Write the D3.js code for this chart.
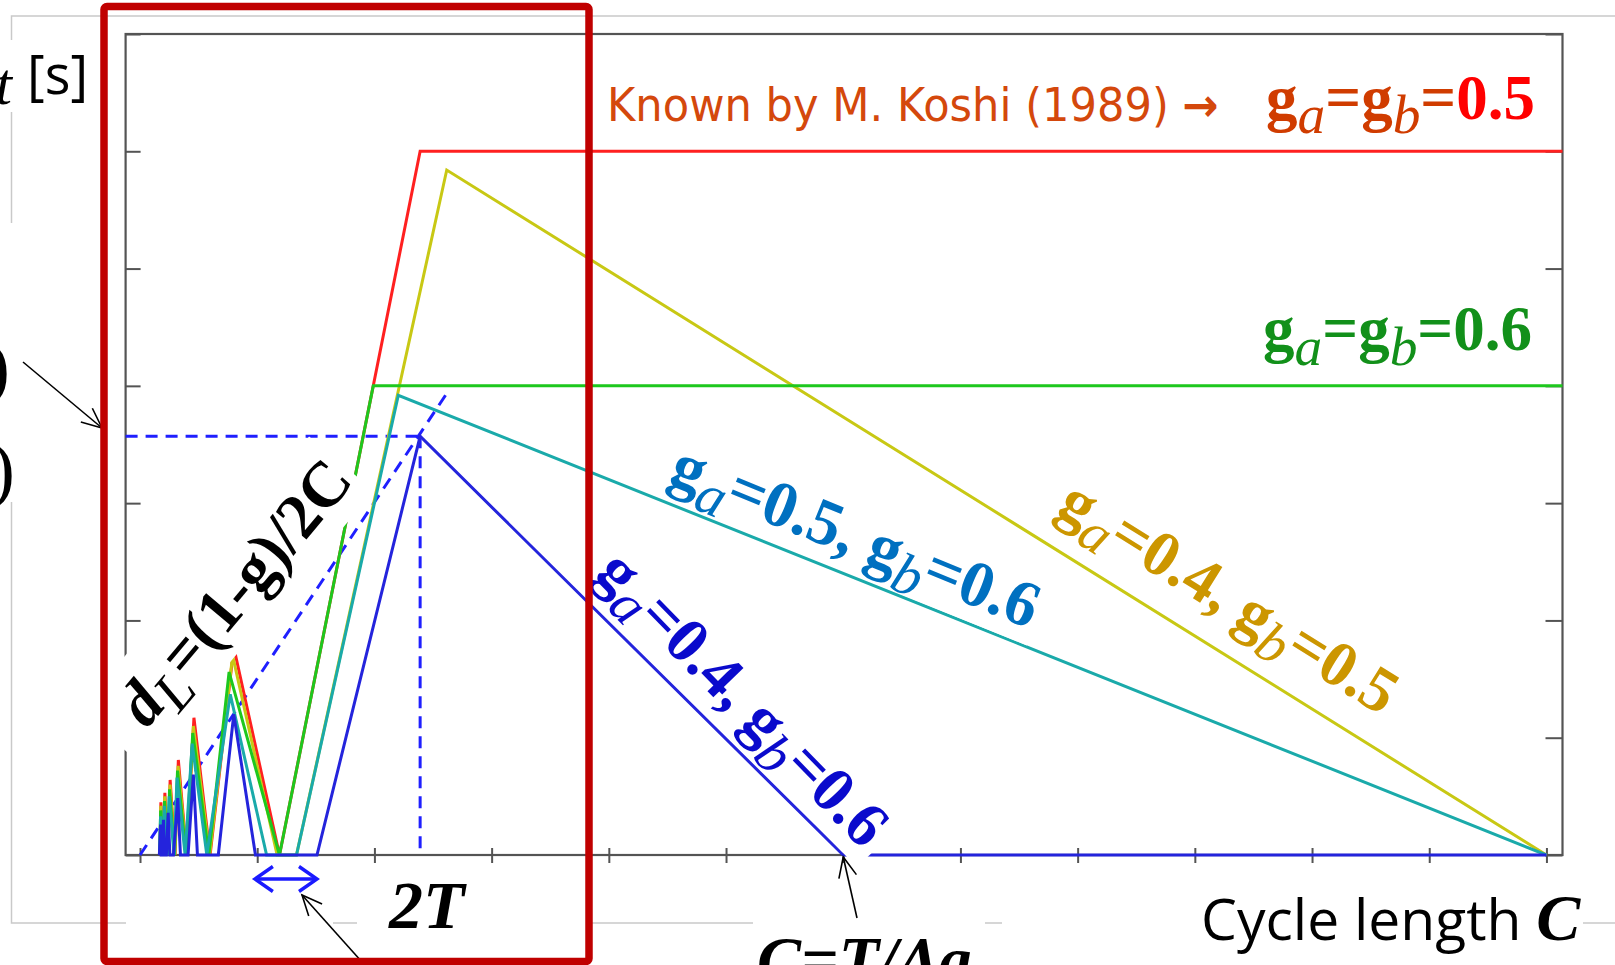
<!DOCTYPE html>
<html>
<head>
<meta charset="utf-8">
<script src="https://cdn.jsdelivr.net/npm/d3@7"></script>
<style>
  html, body { margin: 0; padding: 0; background: #fff; overflow: hidden; }
  svg { display: block; }
</style>
</head>
<body>
<svg id="chart" width="1615" height="965"></svg>
<script>
// ---------- data (cycle length C, delay d) ----------
const xTicks = d3.range(0, 13);   // unlabelled cycle-length ticks
const yTicks = d3.range(0, 8);    // unlabelled delay ticks

// g_a = g_b = 0.5
const redDelay = [[0.171,0],[0.178,0.45],[0.199,0],[0.212,0.53],[0.239,0],[0.257,0.64],[0.299,0],
  [0.327,0.81],[0.398,0],[0.46,1.17],[0.598,0],[0.80,1.77],[1.19,0],[2.39,6.0],[12.137,6.0]];
// g_a = 0.4, g_b = 0.5
const yellowDelay = [[0.170,0],[0.177,0.42],[0.198,0],[0.211,0.50],[0.238,0],[0.256,0.60],[0.297,0],
  [0.325,0.76],[0.396,0],[0.455,1.10],[0.594,0],[0.79,1.70],[1.17,0],[1.335,0],[2.617,5.84],[12,0]];
// g_a = g_b = 0.6
const greenDelay = [[0.168,0],[0.176,0.38],[0.196,0],[0.209,0.46],[0.235,0],[0.252,0.56],[0.294,0],
  [0.32,0.72],[0.392,0],[0.45,1.04],[0.587,0],[0.76,1.56],[1.19,0],[1.99,4.0],[12.137,4.0]];
// g_a = 0.5, g_b = 0.6
const cyanDelay = [[0.168,0],[0.175,0.33],[0.195,0],[0.207,0.42],[0.232,0],[0.249,0.50],[0.290,0],
  [0.316,0.66],[0.385,0],[0.445,0.95],[0.57,0],[0.77,1.37],[1.08,0],[1.335,0],[2.204,3.92],[12,0]];
// g_a = 0.4, g_b = 0.6
const blueDelay = [[0.165,0],[0.175,0.26],[0.18,0],[0.19,0],[0.20,0.30],[0.21,0],[0.225,0],[0.24,0.36],
  [0.255,0],[0.285,0],[0.322,0.485],[0.345,0],[0.41,0],[0.455,0.685],[0.49,0],[0.668,0],[0.80,1.20],
  [0.985,0],[1.51,0],[2.39,3.57],[6.0,0],[12,0]];

// guide lines
const lostTimeLine = [[0,0],[2.62,3.94]];          // d_L = (1-g)/2C
const bluePeak = [2.39, 3.57];                     // peak of the g_a=0.4, g_b=0.6 curve
const twoT = [0.98, 1.51];                         // zero-delay interval of width 2T
const cZero = 6.0;                                 // C = T/Δg

// ---------- layout ----------
const svg = d3.select("#chart");
const x = d3.scaleLinear().domain([-0.123, 12.137]).range([125.6, 1562.5]);
const y = d3.scaleLinear().domain([0, 7]).range([855, 34]);
const SERIF = "'Liberation Serif','Times New Roman',serif";
const SANS = "'Open Sans','Noto Sans',sans-serif";

// outer picture frame (light grey)
svg.append("rect").attr("x", 11.5).attr("y", 16).attr("width", 1640).attr("height", 907)
  .attr("fill", "none").attr("stroke", "#c9c9c9").attr("stroke-width", 1.5);

// plot frame + axes
const AX = "#545454";
svg.append("rect").attr("x", x.range()[0]).attr("y", y(7)).attr("width", x.range()[1] - x.range()[0])
  .attr("height", y(0) - y(7)).attr("fill", "none").attr("stroke", AX).attr("stroke-width", 2.2);

const gx = svg.append("g").attr("transform", `translate(0,${y(0) - 7})`)
  .call(d3.axisBottom(x).tickValues(xTicks).tickFormat("").tickSize(15).tickSizeOuter(0));
const gl = svg.append("g").attr("transform", `translate(${x.range()[0]},0)`)
  .call(d3.axisLeft(y).tickValues(yTicks).tickFormat("").tickSize(-15).tickSizeOuter(0));
const gr = svg.append("g").attr("transform", `translate(${x.range()[1]},0)`)
  .call(d3.axisRight(y).tickValues(yTicks).tickFormat("").tickSize(-17).tickSizeOuter(0));
[gx, gl, gr].forEach(g => {
  g.select(".domain").remove();
  g.selectAll(".tick line").attr("stroke", AX).attr("stroke-width", 2);
});

// dashed guides
const line = d3.line().x(d => x(d[0])).y(d => y(d[1]));
const DASH_COL = "#1f1fff";
const dashed = [lostTimeLine, [[x.domain()[0], bluePeak[1]], bluePeak], [bluePeak, [bluePeak[0], 0]]];
svg.append("g").selectAll("path").data(dashed).join("path")
  .attr("d", line).attr("fill", "none")
  .attr("stroke", DASH_COL).attr("stroke-width", 3).attr("stroke-dasharray", "12,8");

// delay curves
const series = [
  { pts: redDelay,    col: "#ff2020" },
  { pts: yellowDelay, col: "#c8c814" },
  { pts: greenDelay,  col: "#1ec81e" },
  { pts: cyanDelay,   col: "#1aaaaa" },
  { pts: blueDelay,   col: "#2424dc" }
];
svg.append("g").selectAll("path").data(series).join("path")
  .attr("d", d => line(d.pts)).attr("fill", "none")
  .attr("stroke", d => d.col).attr("stroke-width", 3).attr("stroke-linejoin", "miter");

// ---------- text helpers ----------
function richText(g, parts, fs, fill, anchor) {
  const t = g.append("text").attr("font-family", SERIF).attr("font-size", fs)
    .attr("fill", fill).attr("text-anchor", anchor || "start");
  let shifted = false;
  parts.forEach(([s, kind, col]) => {
    const ts = t.append("tspan").text(s);
    if (col) ts.attr("fill", col);
    if (kind === "sub") {
      ts.attr("font-size", fs * 0.88).attr("font-style", "italic").attr("font-weight", "normal")
        .attr("dy", shifted ? 0 : fs * 0.23);
      shifted = true;
    } else {
      ts.attr("font-weight", "bold").attr("font-style", kind === "bi" ? "italic" : "normal")
        .attr("dy", shifted ? -fs * 0.23 : 0);
      shifted = false;
    }
  });
  return t;
}

function rotatedLabel(px, py, angle, parts, fs, fill, box) {
  const g = svg.append("g").attr("transform", `translate(${px},${py}) rotate(${angle})`);
  const t = richText(g, parts, fs, fill, "middle");
  const b = t.node().getBBox();
  g.insert("rect", "text")
    .attr("x", b.x - box.l).attr("y", -box.top * fs)
    .attr("width", b.width + box.l + box.r).attr("height", (box.top + box.bottom) * fs)
    .attr("fill", "#fff");
  return g;
}

function arrow(x1, y1, x2, y2, col, w) {
  const a = Math.atan2(y2 - y1, x2 - x1), L = 22, s = 0.42;
  const g = svg.append("g").attr("stroke", col).attr("stroke-width", w).attr("fill", "none");
  g.append("line").attr("x1", x1).attr("y1", y1).attr("x2", x2).attr("y2", y2);
  g.append("path").attr("d",
    `M${x2 - L * Math.cos(a - s)},${y2 - L * Math.sin(a - s)}L${x2},${y2}L${x2 - L * Math.cos(a + s)},${y2 - L * Math.sin(a + s)}`);
}

// angle (deg) of a data segment on screen
const screenAngle = (p, q) => Math.atan2(y(q[1]) - y(p[1]), x(q[0]) - x(p[0])) * 180 / Math.PI;

// ---------- in-plot labels ----------
rotatedLabel(x(0.946), y(2.127), -50,
  [["d", "bi"], ["L", "sub"], ["=(1-g)/2C", "b"]], 64, "#000",
  { l: 30, r: 5, top: 1.0, bottom: 0.32 });

rotatedLabel(x(6.04), y(2.556), screenAngle(cyanDelay[14], cyanDelay[15]) + 0.3,
  [["g", "b"], ["a", "sub"], ["=0.5, ", "b"], ["g", "b"], ["b", "sub"], ["=0.6", "b"]], 65, "#0070c0",
  { l: 4, r: 4, top: 0.72, bottom: 0.25 });

rotatedLabel(x(9.2), y(2.053), screenAngle(yellowDelay[14], yellowDelay[15]),
  [["g", "b"], ["a", "sub"], ["=0.4, ", "b"], ["g", "b"], ["b", "sub"], ["=0.5", "b"]], 64, "#cc9600",
  { l: 4, r: 4, top: 0.72, bottom: 0.25 });

rotatedLabel(x(5.02), y(1.215), screenAngle(blueDelay[19], blueDelay[20]) + 1,
  [["g", "b"], ["a", "sub"], ["=0.4, ", "b"], ["g", "b"], ["b", "sub"], ["=0.6", "b"]], 64, "#0a0acc",
  { l: 4, r: 8, top: 0.72, bottom: 0.25 });

// top-right case labels: narrow sans line squeezed to its slot by a horizontal scale
const koshiG = svg.append("g");
const koshi = koshiG.append("text").attr("font-family", "'DejaVu Sans',sans-serif")
  .attr("font-size", 46).attr("fill", "#d4480c");
koshi.append("tspan").text("Known by M. Koshi (1989) ");
koshi.append("tspan").attr("font-weight", "bold").text("→");
const koshiW = koshi.node().getComputedTextLength();
koshiG.attr("transform", `translate(607,120.7) scale(${612 / koshiW},1)`);

richText(svg.append("g").attr("transform", "translate(1266,118.5)"),
  [["g", "b"], ["a", "sub"], ["=", "b"], ["g", "b"], ["b", "sub"], ["=", "b"], ["0.5", "b", "#ff0000"]],
  63, "#d03c00");
richText(svg.append("g").attr("transform", "translate(1263,350)"),
  [["g", "b"], ["a", "sub"], ["=", "b"], ["g", "b"], ["b", "sub"], ["=0.6", "b"]],
  63, "#12901a");

// ---------- annotations outside the plot ----------
// white backgrounds of the slide annotations (they cut the grey frame)
const boxes = [[0, 40, 92, 72], [0, 223, 100, 279], [126, 868, 207, 62], [357, 890, 233, 75],
  [753, 918, 232, 47], [1002, 888, 581, 77]];
svg.append("g").selectAll("rect").data(boxes).join("rect")
  .attr("x", d => d[0]).attr("y", d => d[1]).attr("width", d => d[2]).attr("height", d => d[3])
  .attr("fill", "#fff");

// y-axis title fragment
svg.append("text").attr("x", 12).attr("y", 104).attr("text-anchor", "end")
  .attr("font-family", SERIF).attr("font-style", "italic").attr("font-size", 60).text("t");
svg.append("text").attr("x", 27).attr("y", 94).attr("font-family", SANS).attr("font-size", 54).text("[s]");
svg.append("text").attr("x", 10).attr("y", 392).attr("text-anchor", "end")
  .attr("font-family", SERIF).attr("font-size", 74).text(")");
svg.append("text").attr("x", 15).attr("y", 494).attr("text-anchor", "end")
  .attr("font-family", SERIF).attr("font-size", 74).text(")");
arrow(23, 362, 102, 428, "#000", 1.6);

// 2T interval marker
const ty = 879;
const dbl = svg.append("g").attr("stroke", "#1a1aff").attr("stroke-width", 3.4).attr("fill", "none");
dbl.append("line").attr("x1", x(twoT[0])).attr("x2", x(twoT[1])).attr("y1", ty).attr("y2", ty);
dbl.append("path").attr("d", `M${x(twoT[0]) + 18},${ty - 12.5}L${x(twoT[0])},${ty}L${x(twoT[0]) + 18},${ty + 12.5}`);
dbl.append("path").attr("d", `M${x(twoT[1]) - 18},${ty - 12.5}L${x(twoT[1])},${ty}L${x(twoT[1]) - 18},${ty + 12.5}`);
arrow(362, 962, 302, 895, "#000", 1.6);
svg.append("text").attr("x", 389).attr("y", 928).attr("font-family", SERIF).attr("font-weight", "bold")
  .attr("font-style", "italic").attr("font-size", 68).text("2T");

// C = T/Δg marker
arrow(857, 918, x(cZero), y(0) + 2, "#000", 1.6);
svg.append("text").attr("x", 757).attr("y", 982).attr("font-family", SERIF).attr("font-weight", "bold")
  .attr("font-style", "italic").attr("font-size", 66).text("C=T/Δg");

// x-axis title
const xt = svg.append("text").attr("x", 1201).attr("y", 940).attr("font-family", SANS).attr("font-size", 57);
xt.append("tspan").text("Cycle length ");
xt.append("tspan").attr("font-family", SERIF).attr("font-weight", "bold").attr("font-style", "italic")
  .attr("font-size", 66).text("C");

// highlight box
svg.append("rect").attr("x", 104).attr("y", 6.5).attr("width", 485).attr("height", 955).attr("rx", 3)
  .attr("fill", "none").attr("stroke", "#c00000").attr("stroke-width", 7.5);
</script>
</body>
</html>
